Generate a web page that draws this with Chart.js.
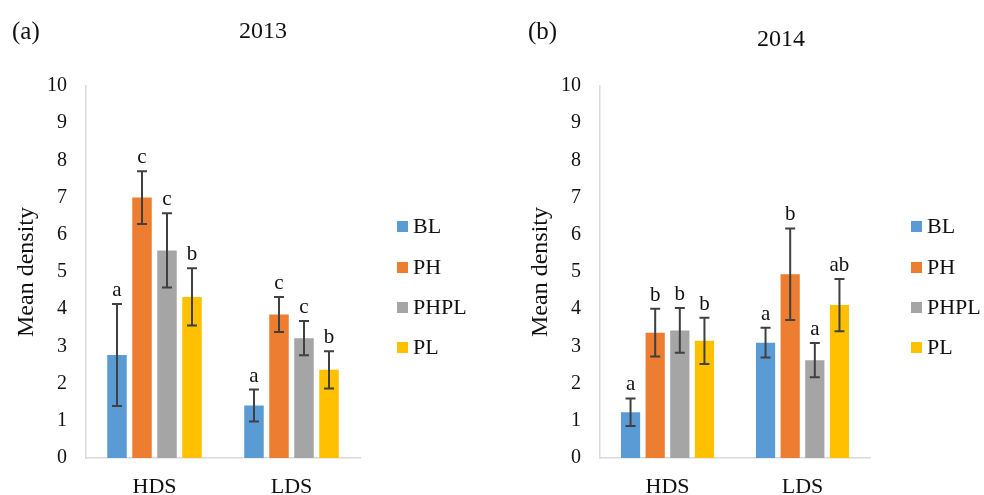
<!DOCTYPE html>
<html>
<head>
<meta charset="utf-8">
<script src="https://cdn.jsdelivr.net/npm/chart.js@4.4.1/dist/chart.umd.min.js"></script>
<style>
  body { margin: 0; background: #fff; font-family: "Liberation Serif", "Times New Roman", serif; color: #111; }
  #page { position: relative; width: 984px; height: 495px; overflow: hidden; }
  canvas { position: absolute; top: 0; }
  .txt { position: absolute; white-space: nowrap; line-height: 1; }
  .leg { position: absolute; font-size: 22px; line-height: 1; white-space: nowrap; }
</style>
</head>
<body>
<div id="page">
  <canvas id="c2013" width="514" height="495" style="left:0"></canvas>
  <canvas id="c2014" width="470" height="495" style="left:514px"></canvas>
</div>
<script>
// ================= DATA =================
const categories = ["HDS", "LDS"];
const seriesNames = ["BL", "PH", "PHPL", "PL"];
const seriesColors = ["#5B9BD5", "#ED7D31", "#A5A5A5", "#FFC000"];
const yTicks = [0, 1, 2, 3, 4, 5, 6, 7, 8, 9, 10];

// 2013: means, error half-widths, significance letters (per series: HDS, LDS)
const bl2013 = [2.77, 1.41];
const ph2013 = [7.00, 3.86];
const phpl2013 = [5.58, 3.22];
const pl2013 = [4.33, 2.37];
const blErr2013 = [1.37, 0.43];
const phErr2013 = [0.71, 0.47];
const phplErr2013 = [1.00, 0.46];
const plErr2013 = [0.77, 0.50];
const blSig2013 = ["a", "a"];
const phSig2013 = ["c", "c"];
const phplSig2013 = ["c", "c"];
const plSig2013 = ["b", "b"];

// 2014
const bl2014 = [1.23, 3.10];
const ph2014 = [3.37, 4.94];
const phpl2014 = [3.43, 2.63];
const pl2014 = [3.15, 4.11];
const blErr2014 = [0.37, 0.40];
const phErr2014 = [0.64, 1.23];
const phplErr2014 = [0.60, 0.46];
const plErr2014 = [0.62, 0.70];
const blSig2014 = ["a", "a"];
const phSig2014 = ["b", "b"];
const phplSig2014 = ["b", "a"];
const plSig2014 = ["b", "ab"];

const SERIF = "'Liberation Serif', 'Times New Roman', serif";

// ================= ERROR BARS + LETTERS =================
const errorBarPlugin = {
    id: "errorBars",
    afterDatasetsDraw(chart) {
        const ctx = chart.ctx;
        const y = chart.scales.y;
        chart.data.datasets.forEach((ds, i) => {
            const meta = chart.getDatasetMeta(i);
            meta.data.forEach((bar, j) => {
                const v = ds.data[j];
                const e = ds.errors[j];
                const top = y.getPixelForValue(v + e);
                const bot = y.getPixelForValue(v - e);
                ctx.save();
                ctx.strokeStyle = "#404040";
                ctx.lineWidth = 2;
                ctx.beginPath();
                ctx.moveTo(bar.x, top);
                ctx.lineTo(bar.x, bot);
                ctx.moveTo(bar.x - 5, top);
                ctx.lineTo(bar.x + 5, top);
                ctx.moveTo(bar.x - 5, bot);
                ctx.lineTo(bar.x + 5, bot);
                ctx.stroke();
                ctx.fillStyle = "#111";
                ctx.font = "21px " + SERIF;
                ctx.textAlign = "center";
                ctx.textBaseline = "alphabetic";
                ctx.fillText(ds.letters[j], bar.x, top - 8);
                ctx.restore();
            });
        });
    }
};

function makeChart(id, plotRight, means, errs, sigs) {
    const datasets = seriesNames.map((name, i) => ({
        label: name,
        data: means[i],
        errors: errs[i],
        letters: sigs[i],
        backgroundColor: seriesColors[i],
        borderWidth: 0,
        categoryPercentage: 0.73,
        barPercentage: 0.78
    }));
    const canvas = document.getElementById(id);
    return new Chart(canvas, {
        type: "bar",
        data: { labels: categories, datasets },
        plugins: [errorBarPlugin],
        options: {
            responsive: false,
            animation: false,
            layout: { padding: { top: 86, right: canvas.width - plotRight, left: 0, bottom: 0 } },
            plugins: { legend: { display: false }, tooltip: { enabled: false } },
            scales: {
                x: {
                    grid: { display: false, drawTicks: false },
                    border: { color: "#D9D9D9", width: 1.5 },
                    ticks: { color: "#111", font: { family: SERIF, size: 22 }, padding: 16 },
                    afterFit: s => { s.height = 37; }
                },
                y: {
                    min: 0,
                    max: 10,
                    afterBuildTicks: s => { s.ticks = yTicks.map(v => ({ value: v })); },
                    grid: { display: false, drawTicks: false },
                    border: { color: "#D9D9D9", width: 1.5 },
                    ticks: { color: "#111", font: { family: SERIF, size: 20 }, padding: 19 },
                    title: {
                        display: true,
                        text: "Mean density",
                        color: "#111",
                        font: { family: SERIF, size: 24 },
                        padding: { top: 12, bottom: 0 }
                    },
                    afterFit: s => { s.width = 86; }
                }
            }
        }
    });
}

// ================= HEADERS + LEGENDS (HTML) =================
const page = document.getElementById("page");
function addText(text, x, y, size, center) {
    const d = document.createElement("div");
    d.className = "txt";
    d.textContent = text;
    d.style.fontSize = size + "px";
    d.style.top = (y - size / 2) + "px";
    if (center) { d.style.left = (x - 100) + "px"; d.style.width = "200px"; d.style.textAlign = "center"; }
    else d.style.left = x + "px";
    page.appendChild(d);
}
function addLegend(x0) {
    const rows = [226, 267, 307, 347];
    seriesNames.forEach((name, i) => {
        const b = document.createElement("span");
        b.style.cssText = "position:absolute;width:11px;height:11px;left:" + x0 + "px;top:" + (rows[i] - 5) + "px;background:" + seriesColors[i];
        page.appendChild(b);
        const t = document.createElement("div");
        t.className = "leg";
        t.textContent = name;
        t.style.left = (x0 + 16) + "px";
        t.style.top = (rows[i] - 11) + "px";
        page.appendChild(t);
    });
}

addText("(a)", 12, 30, 25, false);
addText("2013", 263, 30, 24, true);
addText("(b)", 528, 30, 25, false);
addText("2014", 781, 38, 24, true);
addLegend(397);
addLegend(911);

// ================= START =================
makeChart("c2013", 360,
    [bl2013, ph2013, phpl2013, pl2013],
    [blErr2013, phErr2013, phplErr2013, plErr2013],
    [blSig2013, phSig2013, phplSig2013, plSig2013]);
makeChart("c2014", 356,
    [bl2014, ph2014, phpl2014, pl2014],
    [blErr2014, phErr2014, phplErr2014, plErr2014],
    [blSig2014, phSig2014, phplSig2014, plSig2014]);
</script>
</body>
</html>
